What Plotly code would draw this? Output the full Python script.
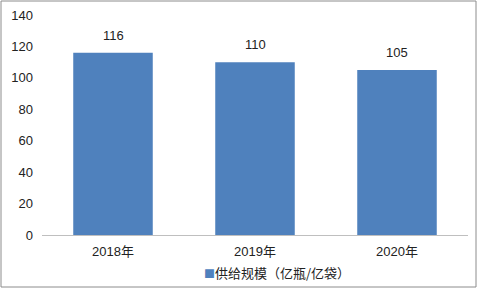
import plotly.graph_objects as go

categories = ["2018年", "2019年", "2020年"]
values = [116, 110, 105]
series_name = "供给规模（亿瓶/亿袋）"
y_ticks = [0, 20, 40, 60, 80, 100, 120, 140]

FONT = "Liberation Sans, Noto Sans CJK SC, sans-serif"
BAR_COLOR = "#4F81BD"

fig = go.Figure()
fig.add_trace(go.Bar(
    x=categories, y=values, name=series_name,
    marker=dict(color=BAR_COLOR, line=dict(width=0)),
    showlegend=False,
))

L, R, T, B = 42, 10, 15, 54
W, H = 478, 289
pw, ph = W - L - R, H - T - B

annotations = [dict(x=c, y=v, xref="x", yref="y", text=str(v), showarrow=False,
                    yanchor="bottom", yshift=8,
                    font=dict(size=13, color="#222222", family=FONT))
               for c, v in zip(categories, values)]
# legend-like label
annotations.append(dict(
    xref="paper", yref="paper", x=(202 - L) / pw, y=(T + ph - 272) / ph,
    xanchor="left", yanchor="middle", showarrow=False,
    text=f"<span style='color:{BAR_COLOR};font-size:11px'>■</span>{series_name}",
    font=dict(size=13, color="#222222", family="Noto Sans CJK SC, sans-serif"),
))

fig.update_layout(
    width=W, height=H,
    margin=dict(l=L, r=R, t=T, b=B, autoexpand=False),
    paper_bgcolor="white", plot_bgcolor="white",
    bargap=0.44,
    font=dict(family=FONT, size=13, color="#222222"),
    showlegend=False,
    xaxis=dict(showline=True, linecolor="#BFBFBF", linewidth=1, ticks="",
               automargin=False, ticklabelstandoff=4,
               tickfont=dict(size=13, color="#222222")),
    yaxis=dict(range=[0, 140], tickvals=y_ticks, showgrid=False, zeroline=False,
               showline=False, ticks="", ticklabelstandoff=8, automargin=False,
               tickfont=dict(size=13, color="#222222")),
    annotations=annotations,
    shapes=[dict(type="rect", xref="paper", yref="paper",
                 x0=(1 - L) / pw, x1=(476 - L) / pw,
                 y0=(T + ph - 287) / ph, y1=(T + ph - 1) / ph,
                 line=dict(color="#8C8C8C", width=1), fillcolor="rgba(0,0,0,0)")],
)

fig.write_html("out.html")
